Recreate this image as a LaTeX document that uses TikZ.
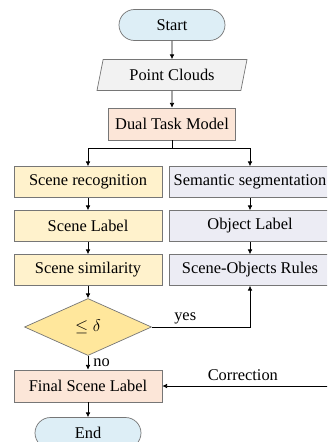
\documentclass[tikz,border=0pt]{standalone}
\usepackage{fontspec}
\setmainfont{Liberation Serif}
\usetikzlibrary{shapes.geometric,arrows.meta}
\definecolor{startend}{RGB}{221,238,246}
\definecolor{inputdata}{RGB}{242,242,242}
\definecolor{process}{RGB}{252,230,216}
\definecolor{scenebox}{RGB}{255,242,204}
\definecolor{objectbox}{RGB}{236,236,244}
\definecolor{decision}{RGB}{255,231,156}
\definecolor{border}{RGB}{118,118,118}
\tikzstyle{block} = [draw=border, inner sep=0pt, minimum height=0.93cm, font=\fontsize{14}{16}\selectfont]
\tikzstyle{terminal} = [block, fill=startend, rounded corners=0.465cm, minimum width=3.18cm]
\tikzstyle{flow} = [-{Latex[length=4pt,width=4pt]}, black]

\begin{document}
\begin{tikzpicture}[x=0.03cm, y=-0.03cm, line width=0.6pt]
            \clip (0, 0) rectangle (327, 442);
            \useasboundingbox (0, 0) rectangle (327, 442);

            \node[terminal] (start) at (172, 25) {Start};
            \node[block, fill=inputdata, trapezium, trapezium left angle=62,
                trapezium right angle=118, trapezium stretches body,
                minimum width=4.5cm] (cloud) at (172, 75) {Point Clouds};
            \node[block, fill=process, minimum width=3.81cm, minimum height=0.96cm]
                (dual) at (172, 124) {Dual Task Model};

            \node[block, fill=scenebox, minimum width=4.44cm] (recog) at (88, 182) {Scene recognition};
            \node[block, fill=scenebox, minimum width=4.44cm] (slabel) at (88, 226) {Scene Label};
            \node[block, fill=scenebox, minimum width=4.44cm] (simil) at (88, 270) {Scene similarity};

            \node[block, fill=objectbox, minimum width=4.86cm] (segm) at (250, 182) {Semantic segmentation};
            \node[block, fill=objectbox, minimum width=4.86cm] (olabel) at (250, 226) {Object Label};
            \node[block, fill=objectbox, minimum width=4.86cm] (rules) at (250, 270) {Scene-Objects Rules};

            \node[block, fill=decision, diamond, minimum width=3.81cm, minimum height=1.71cm]
                (delta) at (88, 327) {$\leq\delta$};

            \node[block, fill=process, minimum width=4.44cm, minimum height=0.96cm]
                (final) at (88, 386) {Final Scene Label};
            \node[terminal] (end) at (88, 433) {End};

            \coordinate (split) at (172, 148);
            \coordinate (corr) at (330, 386);

            \draw[flow] (start) -- (cloud);
            \draw[flow] (cloud) -- (dual);
            \draw (dual) -- (split);
            \draw[flow] (split) -| (recog);
            \draw[flow] (split) -| (segm);
            \draw[flow] (recog) -- (slabel);
            \draw[flow] (slabel) -- (simil);
            \draw[flow] (segm) -- (olabel);
            \draw[flow] (olabel) -- (rules);
            \draw[flow] (simil) -- (delta);
            \draw[flow] (delta.east) -| (rules)
                node[pos=0.17, above=-1pt, font=\fontsize{14}{16}\selectfont]{yes};
            \draw[flow] (delta) -- (final)
                node[pos=0.5, right=1pt, font=\fontsize{14}{16}\selectfont]{no};
            \draw[flow] (corr) -- (final)
                node[pos=0.52, above=1pt, font=\fontsize{14}{16}\selectfont]{Correction};
            \draw[flow] (final) -- (end);
        \end{tikzpicture}
\end{document}
